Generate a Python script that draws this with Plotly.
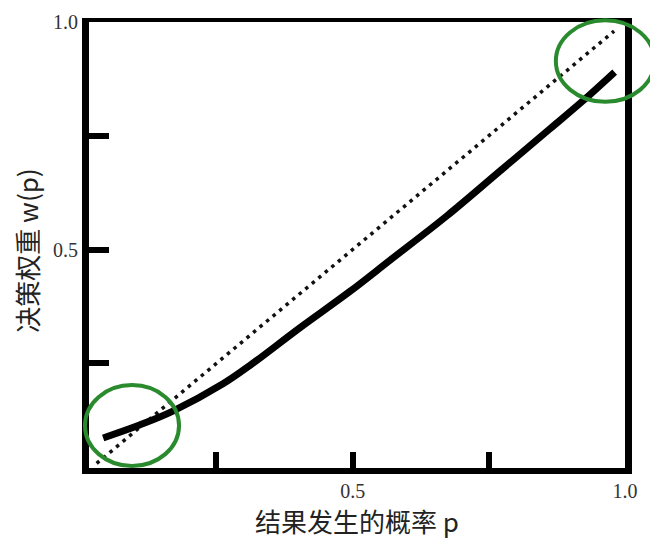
import plotly.graph_objects as go

# probability p and decision weight w(p)
p_curve = [0.042, 0.11, 0.17, 0.262, 0.311, 0.403, 0.495, 0.568, 0.673, 0.770, 0.862, 0.922, 0.981]
w_curve = [0.086, 0.115, 0.145, 0.205, 0.245, 0.328, 0.408, 0.476, 0.574, 0.672, 0.765, 0.826, 0.890]

# reference diagonal w = p
p_diag = [0.03, 0.98]
w_diag = [0.03, 0.98]

x_tickvals = [0.25, 0.5, 0.75, 1.0]
x_ticktext = ["", "0.5", "", "1.0"]
y_tickvals = [0.25, 0.5, 0.75, 1.0]
y_ticktext = ["", "0.5", "", "1.0"]

x_title = "结果发生的概率 p"
y_title = "决策权重 w(p)"

fig = go.Figure()
fig.add_trace(go.Scatter(x=p_diag, y=w_diag, mode="lines",
                         line=dict(color="#111111", width=3.5, dash="3.5px,5px"),
                         hoverinfo="skip", showlegend=False))
fig.add_trace(go.Scatter(x=p_curve, y=w_curve, mode="lines",
                         line=dict(color="#000000", width=7, shape="spline", smoothing=1.0),
                         showlegend=False))

tickfont = dict(family="Liberation Serif", size=20, color="#333333")
titlefont = dict(family="Noto Sans CJK SC", size=26, color="#222222")

# the page body has an 8px margin, so the figure is sized/positioned to compensate
fig.update_layout(
    width=650, height=534,
    margin=dict(l=81, r=33, t=14, b=74),
    paper_bgcolor="white", plot_bgcolor="white",
    xaxis=dict(range=[0.016, 1.0], showgrid=False, zeroline=False,
               showline=True, linecolor="black", linewidth=6, mirror=False,
               ticks="inside", ticklen=16, tickwidth=6, tickcolor="black",
               tickvals=x_tickvals, ticktext=x_ticktext, tickfont=tickfont,
               title=dict(text=x_title, standoff=6, font=titlefont),
               automargin=False),
    xaxis2=dict(range=[0.016, 1.0], overlaying="x", side="top", showgrid=False,
                zeroline=False, showline=True, linecolor="black", linewidth=4,
                showticklabels=False, ticks=""),
    yaxis=dict(range=[0.02, 1.0], showgrid=False, zeroline=False,
               showline=True, linecolor="black", linewidth=7, mirror=True,
               ticks="inside", ticklen=20, tickwidth=6, tickcolor="black",
               tickvals=y_tickvals, ticktext=y_ticktext, tickfont=tickfont,
               automargin=False),
    shapes=[
        dict(type="circle", xref="paper", yref="paper",
             x0=-0.0075, x1=0.168, y0=0.0045, y1=0.186,
             line=dict(color="#2a8a2e", width=4)),
        dict(type="circle", xref="paper", yref="paper",
             x0=0.871, x1=1.055, y0=0.821, y1=1.004,
             line=dict(color="#2a8a2e", width=4)),
    ],
    annotations=[
        dict(text="0", x=0, xref="x", y=0, yref="paper", yanchor="top",
             xanchor="center", xshift=-11, yshift=-10, showarrow=False, font=tickfont),
        dict(text=y_title, x=-0.118, xref="paper", y=0.5, yref="paper",
             xanchor="center", yanchor="middle", yshift=-6, textangle=-90,
             showarrow=False, font=titlefont),
    ],
)
# invisible trace to activate the top axis line
fig.add_trace(go.Scatter(x=[0.5], y=[0.5], xaxis="x2", mode="markers",
                         marker=dict(opacity=0), hoverinfo="skip", showlegend=False))

fig.write_html("out.html")
